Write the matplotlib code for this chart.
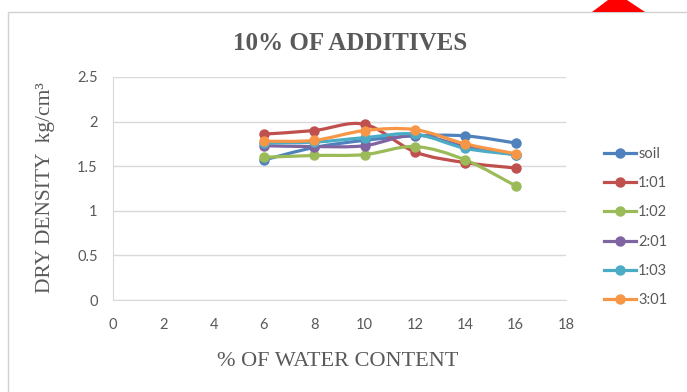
"""Dry density vs water content chart for 10% of additives."""

import matplotlib
matplotlib.use("Agg")
import matplotlib.pyplot as plt
from matplotlib.path import Path
from matplotlib.patches import PathPatch, Polygon, Rectangle
from matplotlib.lines import Line2D

# Data.
water_content = [6, 8, 10, 12, 14, 16]
soil = [1.57, 1.71, 1.79, 1.84, 1.84, 1.76]
mix_1_01 = [1.86, 1.90, 1.97, 1.66, 1.54, 1.48]
mix_1_02 = [1.60, 1.62, 1.63, 1.72, 1.57, 1.28]
mix_2_01 = [1.73, 1.72, 1.73, 1.85, 1.72, 1.63]
mix_1_03 = [1.76, 1.77, 1.82, 1.86, 1.70, 1.63]
mix_3_01 = [1.78, 1.79, 1.90, 1.91, 1.75, 1.64]

series_labels = ["soil", "1:01", "1:02", "2:01", "1:03", "3:01"]
series_values = [soil, mix_1_01, mix_1_02, mix_2_01, mix_1_03, mix_3_01]
series_colors = ["#4F81BD", "#C0504D", "#9BBB59", "#8064A2", "#4BACC6", "#F79646"]

x_ticks = [0, 2, 4, 6, 8, 10, 12, 14, 16, 18]
y_ticks = [0, 0.5, 1, 1.5, 2, 2.5]


# `smooth_path` builds an Excel-style smoothed line through the points.
def smooth_path(xs, ys, tension=1 / 6):
    verts = [(xs[0], ys[0])]
    codes = [Path.MOVETO]
    n = len(xs)
    for i in range(n - 1):
        x0, y0 = (xs[i - 1], ys[i - 1]) if i > 0 else (xs[i], ys[i])
        x1, y1 = xs[i], ys[i]
        x2, y2 = xs[i + 1], ys[i + 1]
        x3, y3 = (xs[i + 2], ys[i + 2]) if i + 2 < n else (x2, y2)
        c1 = (x1 + (x2 - x0) * tension, y1 + (y2 - y0) * tension)
        c2 = (x2 - (x3 - x1) * tension, y2 - (y3 - y1) * tension)
        verts += [c1, c2, (x2, y2)]
        codes += [Path.CURVE4] * 3
    return Path(verts, codes)


fig = plt.figure(figsize=(6.87, 3.92), dpi=100)
fig.patch.set_facecolor("white")

# Chart border and the stray red shape at the top right.
fig.patches.append(Rectangle((8 / 687, -0.01), 1.0, 1 - 12 / 392 + 0.01,
                             transform=fig.transFigure, fill=False,
                             edgecolor="#D0D0D0", linewidth=1.0))
fig.patches.append(Polygon([(592 / 687, 1 - 12 / 392), (645 / 687, 1 - 12 / 392),
                            (627 / 687, 1.0), (608 / 687, 1.0)],
                           closed=True, transform=fig.transFigure,
                           facecolor="#FF0000", edgecolor="none"))

ax = fig.add_axes([113 / 687, 1 - 300 / 392, (566 - 113) / 687, (300 - 77) / 392])

for label, values, color in zip(series_labels, series_values, series_colors):
    ax.add_patch(PathPatch(smooth_path(water_content, values), fill=False,
                           edgecolor=color, linewidth=2.3, capstyle="round",
                           joinstyle="round", zorder=3))
    ax.plot(water_content, values, linestyle="none", marker="o", markersize=6.5,
            color=color, zorder=4, label=label)

ax.set_xlim(0, 18)
ax.set_ylim(0, 2.5)
ax.set_xticks(x_ticks)
ax.set_yticks(y_ticks)
ax.set_yticklabels(["0", "0.5", "1", "1.5", "2", "2.5"])
ax.grid(axis="y", color="#D9D9D9", linewidth=1.0)
ax.set_axisbelow(True)
for side in ["top", "right"]:
    ax.spines[side].set_visible(False)
for side in ["left", "bottom"]:
    ax.spines[side].set_color("#D9D9D9")
ax.tick_params(axis="both", length=0, labelsize=10.5, colors="#595959", pad=11)
ax.tick_params(axis="x", pad=13)
for lbl in ax.get_xticklabels() + ax.get_yticklabels():
    lbl.set_family("Lato")

fig.text(350 / 687, 1 - 43 / 392, "10% OF ADDITIVES", ha="center", va="center",
         family="Liberation Serif", fontweight="bold", fontsize=18, color="#595959")
fig.text(338 / 687, 1 - 362 / 392, "% OF WATER CONTENT", ha="center", va="center",
         family="Liberation Serif", fontsize=16, color="#595959")
fig.text(46 / 687, 1 - 188 / 392, "DRY DENSITY  kg/cm³", ha="center", va="center",
         rotation=90, family="Liberation Serif", fontsize=15.5, color="#595959")

handles = [Line2D([0], [0], color=c, linewidth=2.3, marker="o", markersize=6.5)
           for c in series_colors]
leg = fig.legend(handles, series_labels, loc="center left",
                 bbox_to_anchor=(598 / 687, 1 - 227 / 392), frameon=False,
                 prop={"family": "Lato", "size": 10.5}, labelspacing=1.05,
                 handlelength=2.2, handletextpad=0.15, borderaxespad=0)
for text in leg.get_texts():
    text.set_color("#595959")

fig.savefig("out.png", dpi=100)
